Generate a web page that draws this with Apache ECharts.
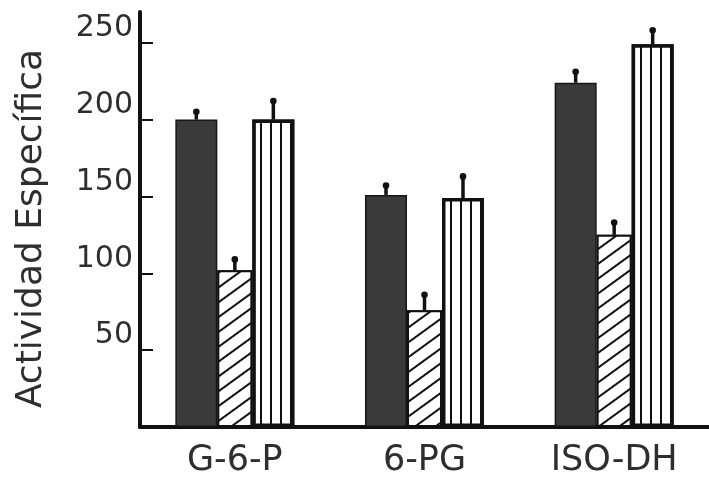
<!DOCTYPE html>
<html>
<head>
<meta charset="utf-8">
<script src="https://cdn.jsdelivr.net/npm/echarts@6/dist/echarts.min.js"></script>
<style>html,body{margin:0;padding:0;background:#fff}#c{width:709px;height:480px}</style>
</head>
<body>
<div id="c"></div>
<script>
const categories = ['G-6-P', '6-PG', 'ISO-DH'];
const darkValues = [200, 151, 224];
const hatchedValues = [102, 76, 125];
const stripedValues = [200, 149, 249];
const darkErr = [7, 8, 9];
const hatchedErr = [9, 12, 10];
const stripedErr = [14, 16, 11];
const yTicks = [50, 100, 150, 200, 250];

const widths = [42, 35, 42];
const total = widths.reduce((a, b) => a + b, 0);
function offsetOf(i) {
  let c = -total / 2;
  for (let k = 0; k < i; k++) c += widths[k];
  return c + widths[i] / 2;
}
function errData(vals, errs) {
  return vals.map((v, i) => [i, v, errs[i]]);
}
function errSeries(vals, errs, idx) {
  const off = offsetOf(idx);
  return {
    type: 'custom',
    z: 10,
    silent: true,
    data: errData(vals, errs),
    encode: { x: 0, y: 1 },
    renderItem: function (params, api) {
      const p0 = api.coord([api.value(0), api.value(1)]);
      const p1 = api.coord([api.value(0), api.value(1) + api.value(2)]);
      const x = p0[0] + off;
      return {
        type: 'group',
        children: [
          { type: 'line', shape: { x1: x, y1: p0[1], x2: x, y2: p1[1] + 3 },
            style: { stroke: '#111', lineWidth: 3.5 } },
          { type: 'circle', shape: { cx: x, cy: p1[1] + 3, r: 3.3 },
            style: { fill: '#111' } }
        ]
      };
    }
  };
}

const font = 'DejaVu Sans';
const textColor = '#2e2e2e';
const chart = echarts.init(document.getElementById('c'));
chart.setOption({
  animation: false,
  backgroundColor: '#ffffff',
  grid: { left: 140, right: 0, top: 12, bottom: 53, containLabel: false },
  xAxis: {
    type: 'category',
    data: categories,
    axisLine: { lineStyle: { color: '#111', width: 4 } },
    axisTick: { show: false },
    axisLabel: { color: textColor, fontSize: 35, fontFamily: font, margin: 16 }
  },
  yAxis: {
    type: 'value',
    min: 0,
    max: 270,
    interval: 50,
    name: 'Actividad Específica',
    nameLocation: 'middle',
    nameRotate: 90,
    nameGap: 90,
    nameTextStyle: { color: textColor, fontSize: 36, fontFamily: font, padding: [0, 18, 0, 0] },
    axisLine: { show: true, lineStyle: { color: '#111', width: 4 } },
    axisTick: { show: true, inside: true, length: 13, lineStyle: { color: '#111', width: 2 }, customValues: yTicks },
    axisLabel: { color: textColor, fontSize: 30, fontFamily: font, margin: 7, verticalAlign: 'bottom', lineHeight: 29, customValues: yTicks },
    splitLine: { show: false }
  },
  series: [
    {
      type: 'bar', data: darkValues, barWidth: widths[0], barGap: '0%',
      itemStyle: { color: '#3a3a3a', borderColor: '#161616', borderWidth: 1.5 }
    },
    {
      type: 'bar', data: hatchedValues, barWidth: widths[1], barGap: '0%',
      itemStyle: {
        color: '#ffffff', borderColor: '#111', borderWidth: 2,
        decal: { symbol: 'rect', symbolSize: 1, color: '#111', backgroundColor: '#ffffff',
                 dashArrayX: [1, 0], dashArrayY: [2, 10], rotation: -Math.PI / 5 }
      }
    },
    {
      type: 'bar', data: stripedValues, barWidth: widths[2], barGap: '0%',
      itemStyle: {
        color: '#ffffff', borderColor: '#111', borderWidth: 3.5,
        decal: { symbol: 'rect', symbolSize: 1, color: '#111', backgroundColor: '#ffffff',
                 dashArrayX: [1.6, 8], dashArrayY: [1, 0], rotation: 0 }
      }
    },
    errSeries(darkValues, darkErr, 0),
    errSeries(hatchedValues, hatchedErr, 1),
    errSeries(stripedValues, stripedErr, 2)
  ]
});
</script>
</body>
</html>
